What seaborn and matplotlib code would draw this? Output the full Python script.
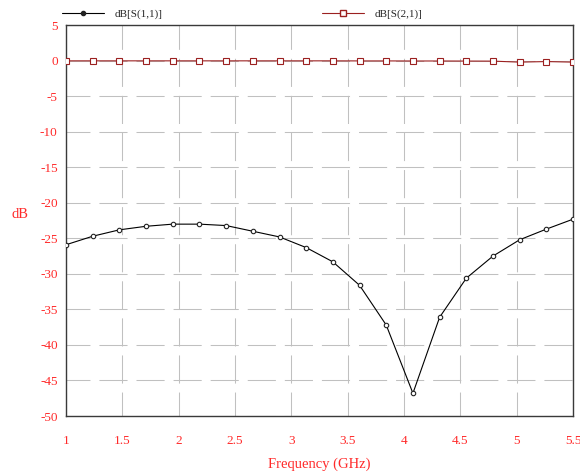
import numpy as np
import pandas as pd
import seaborn as sns
import matplotlib.pyplot as plt
from matplotlib.lines import Line2D

# frequency points (GHz), 20 samples
freq = [1.0, 1.237, 1.474, 1.711, 1.947, 2.184, 2.421, 2.658, 2.895, 3.132,
        3.368, 3.605, 3.842, 4.079, 4.316, 4.553, 4.789, 5.026, 5.263, 5.5]
s11 = [-25.9, -24.7, -23.8, -23.3, -23.0, -23.0, -23.2, -24.0, -24.8, -26.3,
       -28.3, -31.6, -37.2, -46.8, -36.1, -30.6, -27.5, -25.2, -23.7, -22.3]
s21 = [-0.02, -0.02, -0.02, -0.02, -0.02, -0.02, -0.02, -0.02, -0.02, -0.02,
       -0.02, -0.03, -0.03, -0.04, -0.04, -0.05, -0.06, -0.2, -0.12, -0.2]

xticks = [1, 1.5, 2, 2.5, 3, 3.5, 4, 4.5, 5, 5.5]
xticklabels = ['1', '1.5', '2', '2.5', '3', '3.5', '4', '4.5', '5', '5.5']
yticks = [5, 0, -5, -10, -15, -20, -25, -30, -35, -40, -45, -50]

df = pd.DataFrame({'freq': freq, 's11': s11, 's21': s21})

sns.set_style('white')
plt.rcParams['font.family'] = ['Liberation Serif', 'DejaVu Serif']
plt.rcParams['axes.unicode_minus'] = False

red = '#ff2a2a'
dark_red = '#9b2020'

fig = plt.figure(figsize=(5.8, 4.75), dpi=100)
ax = fig.add_axes([0.1138, 0.1242, 0.8742, 0.8228])

sns.lineplot(data=df, x='freq', y='s11', ax=ax, color='black', lw=0.8,
             marker='o', markersize=3.2, markerfacecolor='white',
             markeredgecolor='#222222', markeredgewidth=0.8, zorder=3)
sns.lineplot(data=df, x='freq', y='s21', ax=ax, color=dark_red, lw=0.8,
             marker='s', markersize=3.8, markerfacecolor='white',
             markeredgecolor=dark_red, markeredgewidth=0.8, zorder=3)

ax.set_xlim(1, 5.5)
ax.set_ylim(-50, 5)
ax.set_xticks(xticks)
ax.set_xticklabels(xticklabels)
ax.set_yticks(yticks)

ax.grid(True, color='#c0c0c0', lw=0.75, linestyle=(4, (27, 8.6)))
ax.set_axisbelow(True)
for sp in ax.spines.values():
    sp.set_color('#3a3a3a')
    sp.set_linewidth(1.0)

ax.tick_params(axis='both', length=0, labelsize=9.5, labelcolor=red)
ax.tick_params(axis='x', pad=14)
ax.tick_params(axis='y', pad=6)

ax.set_xlabel('Frequency (GHz)', color=red, fontsize=10.5)
ax.xaxis.set_label_coords(0.5, -0.105)
ax.set_ylabel('dB', color=red, fontsize=10.5, rotation=0)
ax.yaxis.set_label_coords(-0.09, 0.5)

# legend entries above the plot, one per trace
h1 = Line2D([], [], color='black', lw=0.8, marker='o', markersize=3,
            markerfacecolor='#222222', markeredgecolor='#222222')
h2 = Line2D([], [], color=dark_red, lw=0.8, marker='s', markersize=3.8,
            markerfacecolor='white', markeredgecolor=dark_red)
fig.legend([h1], ['dB[S(1,1)]'], loc='center left',
           bbox_to_anchor=(0.09, 0.971), frameon=False, fontsize=8,
           handlelength=3.8, handletextpad=0.9)
fig.legend([h2], ['dB[S(2,1)]'], loc='center left',
           bbox_to_anchor=(0.538, 0.971), frameon=False, fontsize=8,
           handlelength=3.8, handletextpad=0.9)

fig.savefig('out.png', dpi=100)
